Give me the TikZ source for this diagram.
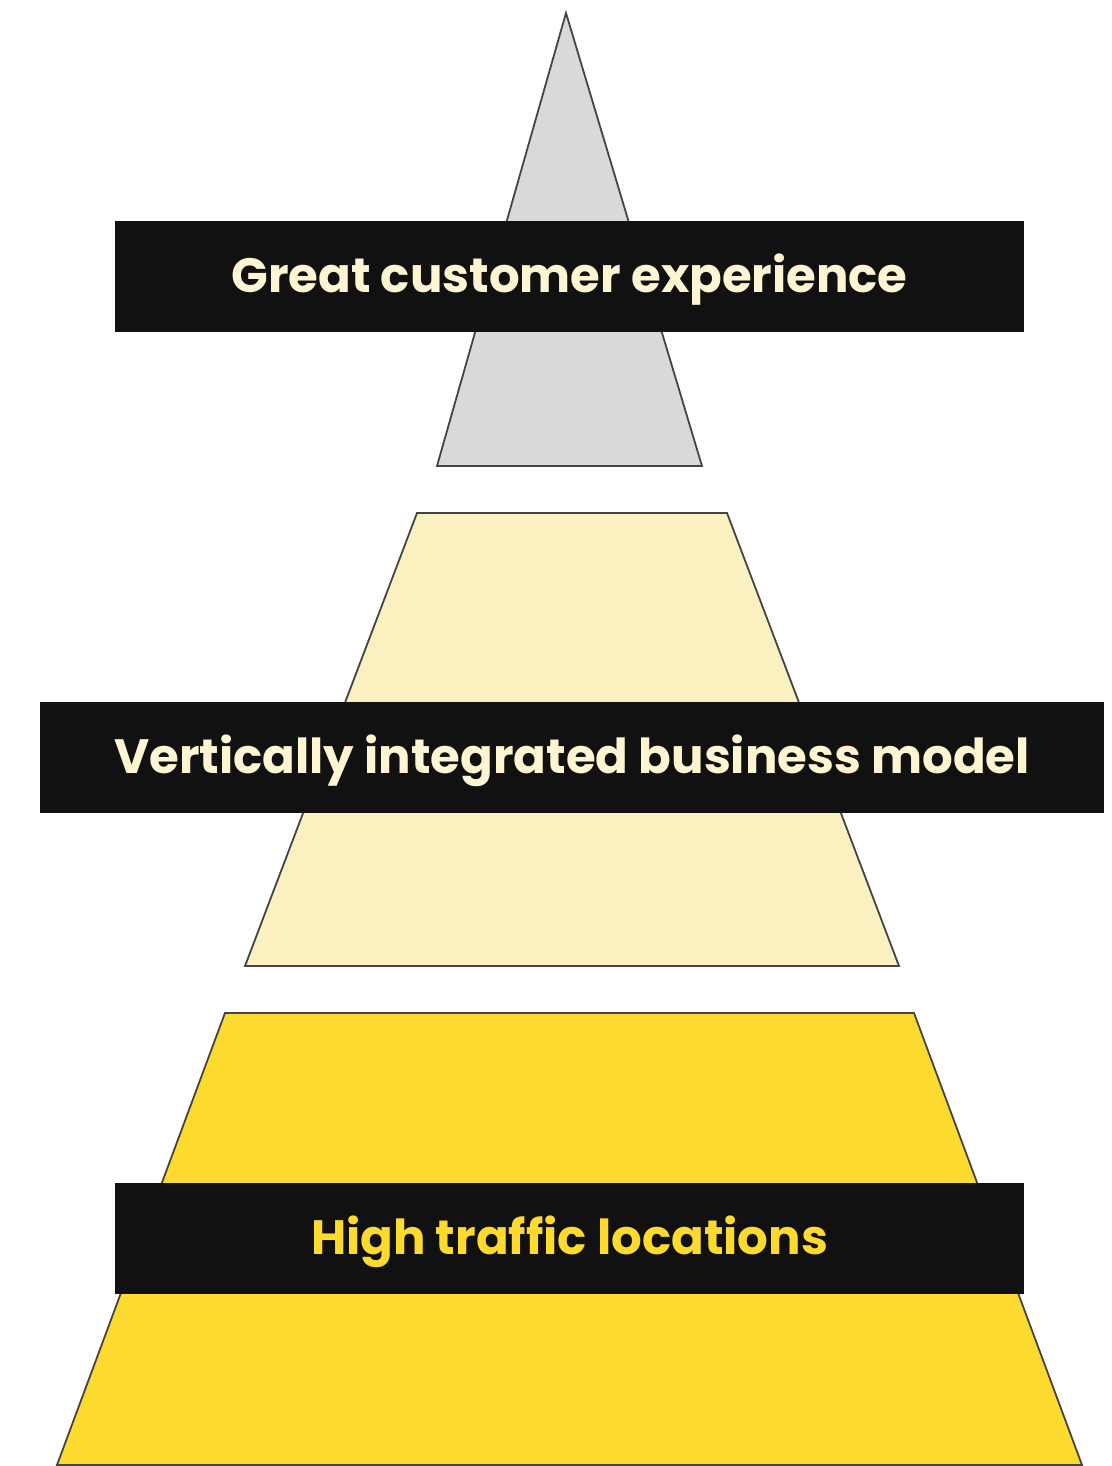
\documentclass[tikz,border=0pt]{standalone}
\usepackage{fontspec}
\setmainfont{Poppins}
\definecolor{edge}{HTML}{444444}
\definecolor{topfill}{HTML}{D9D9D9}
\definecolor{midfill}{HTML}{FAF0C0}
\definecolor{botfill}{HTML}{FCDA2E}
\definecolor{barblack}{HTML}{111111}
\definecolor{cream}{HTML}{FFF5D2}
\definecolor{yel}{HTML}{FCDA2E}
\begin{document}
\begin{tikzpicture}[x=1pt,y=-1pt,
  tier/.style={draw=edge, line width=1.8pt, line join=miter},
  bar/.style={fill=barblack, draw=none},
  label/.style={font=\fontsize{48.2}{52}\selectfont\bfseries, anchor=center}]
\useasboundingbox (0,0) rectangle (1111,1466);
% tiers
\draw[tier, fill=topfill] (566,13) -- (702,466) -- (437,466) -- cycle;
\draw[tier, fill=midfill] (417,513) -- (727,513) -- (899,966) -- (245,966) -- cycle;
\draw[tier, fill=botfill] (225,1013) -- (914,1013) -- (1082,1465) -- (57,1465) -- cycle;
% bars
\fill[bar] (115,221) rectangle (1024,332);
\fill[bar] (40,702) rectangle (1104,813);
\fill[bar] (115,1183) rectangle (1024,1294);
% labels
\node[label, text=cream] (l1) at (569.5,280) {Great customer experience};
\node[label, text=cream] (l2) at (572,761) {Vertically integrated business model};
\node[label, text=yel] (l3) at (569.5,1242) {High traffic locations};
\end{tikzpicture}
\end{document}
